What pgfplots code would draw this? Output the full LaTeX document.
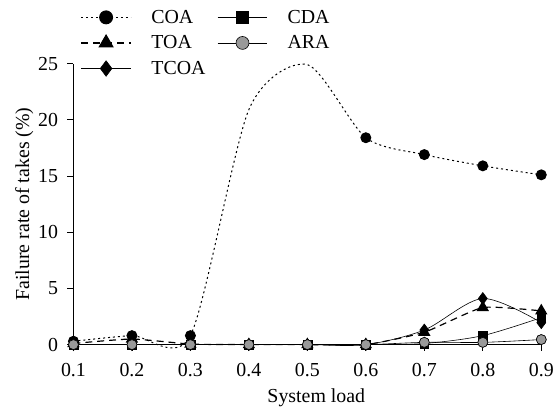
\documentclass[border=0pt]{standalone}
\usepackage{pgfplots}
\pgfplotsset{compat=1.18}
\usepackage{fontspec}
\setmainfont{Liberation Serif}
\begin{document}
\begin{tikzpicture}[font=\fontsize{20}{24}\selectfont]
  \begin{axis}[
    scale only axis,
    width=471pt,
    height=283pt,
    xmin=0.1, xmax=0.9,
    ymin=0, ymax=25,
    axis x line=bottom,
    axis y line=left,
    axis line style={-, line width=0.8pt},
    tick align=outside,
    tick style={black, line width=0.8pt},
    major tick length=6pt,
    xtick={0.1,0.2,...,0.9},
    ytick={0,5,...,25},
    xticklabel style={/pgf/number format/fixed, /pgf/number format/precision=1, yshift=-9pt},
    yticklabel style={xshift=-6pt},
    /pgf/number format/assume math mode=true,
    xlabel={System load},
    ylabel={Failure rate of takes (\%)},
    xlabel style={yshift=-5pt, xshift=9pt},
    ylabel style={yshift=-2pt},
    clip=false,
    legend columns=2,
    legend style={draw=none, fill=none, at={(0.015,1.198)}, anchor=north west,
      inner sep=0pt, row sep=7pt,
      /tikz/every odd column/.append style={column sep=18pt},
      /tikz/every even column/.append style={column sep=10pt},
      font=\fontsize{20}{24}\selectfont},
    legend cell align=left,
    legend image code/.code={
      \draw[mark=none] (0pt,0pt) -- (50pt,0pt);
      \draw[only marks, mark indices={1}, every mark/.append style={scale=1.3}]
        plot coordinates {(25pt,0pt)};},
  ]
    \path (rel axis cs:-0.157,-0.219) rectangle (rel axis cs:1.028,1.226);
    \addplot[black, dash pattern=on 2pt off 3pt, line width=1pt, smooth, tension=0.45, mark=*, mark size=5pt,
      mark options={solid}, mark indices={1,2,3,6,7,8,9}] coordinates {
      (0.1,0.3) (0.2,0.8) (0.3,0.8) (0.4,20.9) (0.5,24.9) (0.6,18.4)
      (0.7,16.9) (0.8,15.9) (0.9,15.1)
    };
    \addlegendentry{COA}
    \addplot[black, semithick, smooth, tension=0.5, mark=square*, mark size=4.5pt] coordinates {
      (0.1,0) (0.2,0) (0.3,0) (0.4,0) (0.5,0) (0.6,0) (0.7,0.1) (0.8,0.8) (0.9,2.4)
    };
    \addlegendentry{CDA}
    \addplot[black, dash pattern=on 7pt off 5pt, line width=1.2pt, smooth, tension=0.3, mark=triangle*, mark size=6pt,
      mark options={solid}] coordinates {
      (0.1,0.1) (0.2,0.5) (0.3,0.05) (0.4,0) (0.5,0) (0.6,0) (0.7,1.1) (0.8,3.3) (0.9,3.0)
    };
    \addlegendentry{TOA}
    \addplot[black, semithick, smooth, tension=0.5, mark=*, mark size=5pt,
      mark options={fill=gray!80}] coordinates {
      (0.1,0) (0.2,0) (0.3,0) (0.4,0) (0.5,0) (0.6,0) (0.7,0.2) (0.8,0.2) (0.9,0.45)
    };
    \addlegendentry{ARA}
    \addplot[black, semithick, smooth, tension=0.5, mark=diamond*, mark size=6pt] coordinates {
      (0.1,0) (0.2,0) (0.3,0) (0.4,0) (0.5,0) (0.6,0) (0.7,1.3) (0.8,4.1) (0.9,1.95)
    };
    \addlegendentry{TCOA}
    % ARA markers again on top
    \addplot[black, semithick, mark=*, mark size=5pt, mark options={fill=gray!80},
      forget plot, only marks] coordinates {
      (0.1,0) (0.2,0) (0.3,0) (0.4,0) (0.5,0) (0.6,0) (0.7,0.2) (0.8,0.2) (0.9,0.45)
    };
  \end{axis}
\end{tikzpicture}
\end{document}
